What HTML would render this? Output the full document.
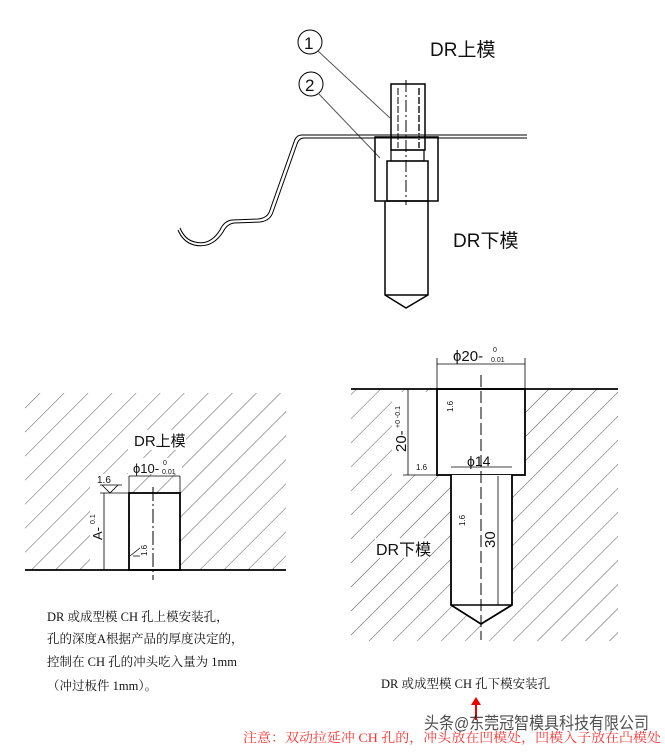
<!DOCTYPE html>
<html><head><meta charset="utf-8"><style>
body{margin:0;background:#fff;width:665px;height:752px;overflow:hidden}
svg{display:block}
text{font-family:"Liberation Sans","Noto Sans CJK SC",sans-serif}
.s{font-family:"Liberation Serif","Noto Serif CJK SC",serif;font-size:12.5px;fill:#111}
</style></head><body>
<svg width="665" height="752" viewBox="0 0 665 752" xmlns="http://www.w3.org/2000/svg">
<defs>
<pattern id="h" patternUnits="userSpaceOnUse" width="17" height="17" patternTransform="rotate(45)">
<line x1="0" y1="0" x2="0" y2="17" stroke="#444" stroke-width="0.9"/>
</pattern>
</defs>
<g fill="none" stroke="#000">
<circle cx="310" cy="42" r="12" stroke-width="1"/>
<circle cx="311" cy="84" r="12" stroke-width="1"/>
<line x1="318" y1="51" x2="390" y2="118" stroke="#555"/>
<line x1="318" y1="93" x2="380" y2="158" stroke="#555"/>
<path d="M527 135 H302 Q296 135 294 142 L270 210 Q268 218 258 219 L232 220 Q224 221 220 230 Q210 246 195 242 Q185 240 180 228" stroke-width="1"/>
<path d="M527 138 H304 Q299 138 297 144 L273 212 Q270 221 260 222 L234 223 Q227 224 223 232 Q212 249 194 245 Q183 242 178 230" stroke-width="1"/>
<rect x="391" y="84" width="34" height="66" stroke-width="1.5"/>
<line x1="398" y1="88" x2="398" y2="148" stroke-dasharray="7 2"/>
<line x1="419" y1="88" x2="419" y2="148" stroke-dasharray="7 2" stroke-width="2" stroke="#555"/>
<rect x="375" y="137" width="63" height="64" stroke-width="1.5"/>
<rect x="391" y="150" width="33" height="11" stroke-width="1.2"/>
<rect x="387" y="161" width="41" height="40" stroke-width="1.5"/>
<path d="M385 201 V295 L406 308 L428 295 V201" stroke-width="1.5"/>
<line x1="385" y1="295" x2="428" y2="295" stroke-width="1.5"/>
<line x1="406" y1="80" x2="406" y2="205" stroke-dasharray="12 3 2 3"/>
</g>
<text x="430" y="56" font-size="19" fill="#111">DR上模</text>
<text x="453" y="247" font-size="19" fill="#111">DR下模</text>
<text x="304" y="49" font-size="17" fill="#111">1</text>
<text x="305" y="91" font-size="17" fill="#111">2</text>

<rect x="25" y="393" width="261" height="177" fill="url(#h)"/>
<rect x="129" y="493" width="51" height="77" fill="#fff" stroke="#000" stroke-width="1.8"/>
<rect x="128" y="430" width="58" height="20" fill="#fff"/>
<rect x="128" y="458" width="54" height="16" fill="#fff"/>
<rect x="90" y="474" width="38" height="96" fill="#fff"/>
<line x1="25" y1="570" x2="286" y2="570" stroke="#000" stroke-width="1.8"/>
<line x1="153" y1="487" x2="153" y2="580" stroke="#000" stroke-dasharray="14 3 2 3"/>
<text x="134" y="446" font-size="15" fill="#111">DR上模</text>
<line x1="129" y1="476" x2="180" y2="476" stroke="#000" stroke-width="0.8"/>
<line x1="129" y1="476" x2="129" y2="493" stroke="#000" stroke-width="0.8"/>
<line x1="180" y1="476" x2="180" y2="493" stroke="#000" stroke-width="0.8"/>
<text x="133" y="473" font-size="13" fill="#111">ϕ10-</text>
<text x="163" y="465" font-size="7" fill="#111">0</text>
<text x="162" y="474" font-size="7" fill="#111">0.01</text>
<line x1="104" y1="493" x2="104" y2="570" stroke="#000" stroke-width="0.8"/>
<line x1="100" y1="493" x2="129" y2="493" stroke="#000" stroke-width="0.8"/>
<path d="M102 485 L110 493 L118 485 Z M100 485 H122" fill="none" stroke="#000" stroke-width="0.8"/>
<text x="97" y="483" font-size="10" fill="#111">1.6</text>
<text transform="translate(102,540) rotate(-90)" font-size="13" fill="#111">A-</text>
<text transform="translate(95,524) rotate(-90)" font-size="7" fill="#111">0.1</text>
<path d="M130 556 L140 548 M133 556 L140 556" stroke="#000" stroke-width="0.8"/>
<text transform="translate(147,556) rotate(-90)" font-size="8" fill="#111">1.6</text>

<rect x="351" y="389" width="267" height="252" fill="url(#h)"/>
<rect x="437" y="389" width="88" height="86" fill="#fff" stroke="#000" stroke-width="1.8"/>
<path d="M451 475 V605 L481 624 L512 605 V475" fill="#fff" stroke="#000" stroke-width="1.8"/>
<line x1="451" y1="605" x2="512" y2="605" stroke="#000" stroke-width="1.5"/>
<rect x="392" y="392" width="44" height="83" fill="#fff"/>
<rect x="375" y="538" width="54" height="20" fill="#fff"/>
<line x1="351" y1="389" x2="618" y2="389" stroke="#000" stroke-width="1.8"/>
<line x1="481" y1="375" x2="481" y2="640" stroke="#000" stroke-dasharray="12 4"/>
<line x1="437" y1="364" x2="525" y2="364" stroke="#000" stroke-width="0.8"/>
<line x1="437" y1="358" x2="437" y2="389" stroke="#000" stroke-width="0.8"/>
<line x1="525" y1="358" x2="525" y2="389" stroke="#000" stroke-width="0.8"/>
<text x="453" y="361" font-size="15" fill="#111">ϕ20-</text>
<text x="493" y="352" font-size="7" fill="#111">0</text>
<text x="491" y="362" font-size="7" fill="#111">0.01</text>
<line x1="408" y1="389" x2="408" y2="475" stroke="#000" stroke-width="0.8"/>
<line x1="403" y1="475" x2="437" y2="475" stroke="#000" stroke-width="0.8"/>
<text transform="translate(406,452) rotate(-90)" font-size="15" fill="#111">20-</text>
<text transform="translate(400,428) rotate(-90)" font-size="7" fill="#111">+0 -0.1</text>
<text x="416" y="470" font-size="8" fill="#111">1.6</text>
<line x1="451" y1="467" x2="512" y2="467" stroke="#000" stroke-width="0.8"/>
<text x="467" y="466" font-size="14" fill="#111">ϕ14</text>
<line x1="498" y1="476" x2="498" y2="605" stroke="#000" stroke-width="0.8"/>
<text transform="translate(495,548) rotate(-90)" font-size="15" fill="#111">30</text>
<text transform="translate(453,412) rotate(-90)" font-size="8" fill="#111">1.6</text>
<text transform="translate(465,526) rotate(-90)" font-size="8" fill="#111">1.6</text>
<text x="376" y="555" font-size="16" fill="#111">DR下模</text>

<text class="s" x="47" y="621">DR 或成型模 CH 孔上模安装孔，</text>
<text class="s" x="47" y="643">孔的深度A根据产品的厚度决定的，</text>
<text class="s" x="47" y="666">控制在 CH 孔的冲头吃入量为 1mm</text>
<text class="s" x="47" y="690">（冲过板件 1mm）。</text>
<text class="s" x="381" y="688">DR 或成型模 CH 孔下模安装孔</text>
<line x1="476" y1="720" x2="476" y2="703" stroke="#e00" stroke-width="2"/>
<path d="M471 705 L476 697 L481 705 Z" fill="#e00"/>
<text x="243" y="742" font-size="13" fill="#f33" textLength="418" lengthAdjust="spacingAndGlyphs" style="font-family:'Liberation Serif','Noto Serif CJK SC',serif">注意：双动拉延冲 CH 孔的，冲头放在凹模处，凹模入子放在凸模处</text>
<text x="424" y="729" font-size="17" fill="#222" opacity="0.8" textLength="225" lengthAdjust="spacingAndGlyphs">头条@东莞冠智模具科技有限公司</text>
</svg>
</body></html>
